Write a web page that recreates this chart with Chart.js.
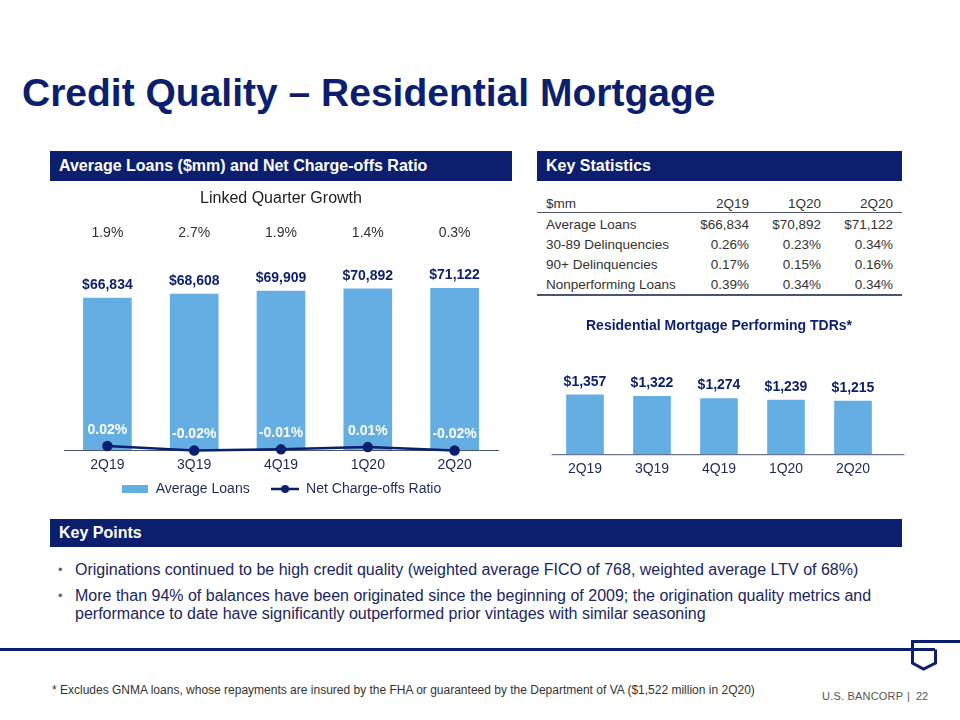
<!DOCTYPE html>
<html>
<head>
<meta charset="utf-8">
<script src="https://cdn.jsdelivr.net/npm/chart.js@4.4.1/dist/chart.umd.min.js"></script>
<style>
  body { margin: 0; background: #fff; font-family: "Liberation Sans", Arial, sans-serif; }
  #slide { position: relative; width: 960px; height: 720px; overflow: hidden; }
  .abs { position: absolute; }
  .title { left: 22px; top: 71px; font-size: 39px; font-weight: bold; color: #0c1f6e; white-space: nowrap; }
  .bar { background: #0c1f6e; color: #fff; font-weight: bold; font-size: 16px; padding-left: 9px; box-sizing: border-box; }
  #stats { left: 537px; top: 196px; width: 365px; border-collapse: collapse; font-size: 13.5px; color: #333; table-layout: fixed; }
  #stats td { height: 20px; padding: 0; line-height: 16px; vertical-align: bottom; }
  #stats tr.head td { height: 15px; vertical-align: middle; border-bottom: 1.5px solid #4a5474; }
  #stats tr.last td { height: 22px; vertical-align: top; padding-top: 4px; box-sizing: border-box; border-bottom: 2px solid #4a5474; }
  #stats td.num { text-align: right; }
  #stats td.lbl { padding-left: 9px; }
  #stats td.end { padding-right: 9px; }
  .points { left: 58px; top: 561px; width: 850px; font-size: 16px; color: #1a2660; }
  .points div { position: relative; padding-left: 17px; line-height: 18px; margin-bottom: 8px; }
  .points div:before { content: "\2022"; position: absolute; left: 0; color: #666; font-size: 13px; }
  .note { left: 52px; top: 683px; font-size: 12px; color: #333; white-space: nowrap; }
  .brand { top: 690px; font-size: 11px; color: #555; white-space: nowrap; }
</style>
</head>
<body>
<div id="slide">
  <div class="abs title">Credit Quality – Residential Mortgage</div>

  <div class="abs bar" style="left:50px; top:151px; width:462px; height:30px; line-height:30px;">Average Loans ($mm) and Net Charge-offs Ratio</div>
  <div class="abs bar" style="left:537px; top:151px; width:365px; height:30px; line-height:30px;">Key Statistics</div>

  <canvas id="loansChart" class="abs" style="left:50px; top:185px;" width="465" height="321"></canvas>
  <table id="stats" class="abs"></table>
  <canvas id="tdrChart" class="abs" style="left:537px; top:310px;" width="380" height="175"></canvas>

  <div class="abs bar" style="left:50px; top:519px; width:852px; height:28px; line-height:28px;">Key Points</div>
  <div class="abs points">
    <div>Originations continued to be high credit quality (weighted average FICO of 768, weighted average LTV of 68%)</div>
    <div>More than 94% of balances have been originated since the beginning of 2009; the origination quality metrics and performance to date have significantly outperformed prior vintages with similar seasoning</div>
  </div>

  <svg class="abs" style="left:0; top:630px;" width="960" height="50">
    <g fill="none" stroke="#0c1f6e" stroke-width="3">
      <line x1="0" y1="19.5" x2="935" y2="19.5"/>
      <polyline points="960,11.5 912.5,11.5 912.5,33 923.5,39 935.5,33 935.5,19.5"/>
    </g>
  </svg>
  <div class="abs note">* Excludes GNMA loans, whose repayments are insured by the FHA or guaranteed by the Department of VA ($1,522 million in 2Q20)</div>
  <div class="abs brand" style="left:822px; letter-spacing:0.2px;">U.S. BANCORP</div>
  <div class="abs brand" style="left:907px;">|</div>
  <div class="abs brand" style="left:916px;">22</div>
</div>

<script>
// chart data
var quarters = ["2Q19", "3Q19", "4Q19", "1Q20", "2Q20"];
var avgLoans = [66834, 68608, 69909, 70892, 71122];
var ncoRatio = [0.02, -0.02, -0.01, 0.01, -0.02];
var lqGrowth = ["1.9%", "2.7%", "1.9%", "1.4%", "0.3%"];
var tdrValues = [1357, 1322, 1274, 1239, 1215];

// key statistics table
var statHeads = ["$mm", "2Q19", "1Q20", "2Q20"];
var statLabels = ["Average Loans", "30-89 Delinquencies", "90+ Delinquencies", "Nonperforming Loans"];
var statAvgLoans = ["$66,834", "$70,892", "$71,122"];
var statDelinq3089 = ["0.26%", "0.23%", "0.34%"];
var statDelinq90 = ["0.17%", "0.15%", "0.16%"];
var statNonperf = ["0.39%", "0.34%", "0.34%"];

var NAVY = "#0c1f6e";
var BLUE = "#64aee4";
var TEXT = "#1f2b55";

function buildTable()
{
    var rows = [statAvgLoans, statDelinq3089, statDelinq90, statNonperf];
    var widths = [131, 72, 72, 72];   // + 9px padding on first and last
    var html = '<tr class="head"><td class="lbl" style="width:' + widths[0] + 'px">' + statHeads[0] + '</td>';
    for (var i = 1; i < statHeads.length; i++) {
        html += '<td class="num' + (i == 3 ? ' end' : '') + '" style="width:' + widths[i] + 'px">' + statHeads[i] + '</td>';
    }
    html += '</tr>';
    for (var r = 0; r < rows.length; r++) {
        html += '<tr' + (r == rows.length - 1 ? ' class="last"' : '') + '><td class="lbl">' + statLabels[r] + '</td>';
        for (var c = 0; c < rows[r].length; c++) {
            html += '<td class="num' + (c == 2 ? ' end' : '') + '">' + rows[r][c] + '</td>';
        }
        html += '</tr>';
    }
    document.getElementById("stats").innerHTML = html;
}

function dollars(v) { return "$" + v.toLocaleString("en-US"); }

// little legend icons
function barIcon()
{
    var c = document.createElement("canvas");
    c.width = 26; c.height = 8;
    var ctx = c.getContext("2d");
    ctx.fillStyle = BLUE;
    ctx.fillRect(0, 0, 26, 8);
    return c;
}
function lineIcon()
{
    var c = document.createElement("canvas");
    c.width = 28; c.height = 10;
    var ctx = c.getContext("2d");
    ctx.strokeStyle = NAVY; ctx.lineWidth = 2.5;
    ctx.beginPath(); ctx.moveTo(0, 5); ctx.lineTo(28, 5); ctx.stroke();
    ctx.fillStyle = NAVY;
    ctx.beginPath(); ctx.arc(14, 5, 4, 0, Math.PI * 2); ctx.fill();
    return c;
}

var loansLabels = {
    id: "loansLabels",
    afterDatasetsDraw: function(chart) {
        var ctx = chart.ctx;
        ctx.save();
        ctx.textAlign = "center";
        ctx.textBaseline = "middle";
        var bars = chart.getDatasetMeta(0).data;
        var pts = chart.getDatasetMeta(1).data;
        for (var i = 0; i < bars.length; i++) {
            ctx.font = "bold 14px 'Liberation Sans', Arial";
            ctx.fillStyle = NAVY;
            ctx.fillText(dollars(avgLoans[i]), bars[i].x, bars[i].y - 13);
            ctx.font = "14px 'Liberation Sans', Arial";
            ctx.fillStyle = "#333";
            ctx.fillText(lqGrowth[i], bars[i].x, 48);
            ctx.font = "bold 14px 'Liberation Sans', Arial";
            ctx.fillStyle = "#fff";
            ctx.fillText(ncoRatio[i].toFixed(2) + "%", pts[i].x, pts[i].y - 16);
        }
        ctx.restore();
    }
};

var tdrLabels = {
    id: "tdrLabels",
    afterDatasetsDraw: function(chart) {
        var ctx = chart.ctx;
        var area = chart.chartArea;
        ctx.save();
        ctx.strokeStyle = "#4a5474"; ctx.lineWidth = 1;
        ctx.beginPath(); ctx.moveTo(area.left, area.bottom + 0.5); ctx.lineTo(area.right + 18, area.bottom + 0.5); ctx.stroke();
        ctx.textAlign = "center";
        ctx.textBaseline = "middle";
        ctx.font = "bold 14px 'Liberation Sans', Arial";
        ctx.fillStyle = NAVY;
        var bars = chart.getDatasetMeta(0).data;
        for (var i = 0; i < bars.length; i++) {
            ctx.fillText(dollars(tdrValues[i]), bars[i].x, bars[i].y - 13);
        }
        ctx.restore();
    }
};

function initialiseLoansChart()
{
    var ctx = document.getElementById("loansChart").getContext("2d");
    new Chart(ctx, {
        type: "bar",
        data: {
            labels: quarters,
            datasets: [
                { type: "bar", label: "Average Loans", data: avgLoans, backgroundColor: BLUE,
                  barThickness: 48, yAxisID: "y", order: 1 },
                { type: "line", label: "Net Charge-offs Ratio", data: ncoRatio, borderColor: NAVY,
                  backgroundColor: NAVY, borderWidth: 2.5, pointRadius: 4, pointBackgroundColor: NAVY,
                  yAxisID: "y1", order: 0, clip: false }
            ]
        },
        options: {
            animation: false,
            responsive: false,
            layout: { padding: { left: 14, right: 17, top: 0, bottom: 0 } },
            scales: {
                x: {
                    grid: { display: false, drawTicks: false },
                    border: { display: true, color: "#4a5474", width: 1 },
                    ticks: { color: TEXT, font: { size: 14, lineHeight: 1, family: "'Liberation Sans', Arial" }, padding: 8 }
                },
                y: { display: false, min: 0, max: 80000 },
                y1: { display: false, min: -0.0156, max: 1.593 }
            },
            plugins: {
                title: { display: true, text: "Linked Quarter Growth", color: "#222",
                         font: { size: 16, weight: "normal", family: "'Liberation Sans', Arial" },
                         padding: { top: 4, bottom: 60 } },
                legend: {
                    position: "bottom",
                    labels: {
                        usePointStyle: true,
                        pointStyleWidth: 28,
                        color: TEXT,
                        padding: 2,
                        font: { size: 14, lineHeight: 1, family: "'Liberation Sans', Arial" },
                        generateLabels: function(chart) {
                            var ds = chart.data.datasets;
                            // trailing spaces keep the two entries apart
                            return [
                                { text: ds[0].label + "     ", pointStyle: barIcon(), fontColor: TEXT, datasetIndex: 0, lineWidth: 0 },
                                { text: ds[1].label, pointStyle: lineIcon(), fontColor: TEXT, datasetIndex: 1, lineWidth: 0 }
                            ];
                        }
                    }
                },
                tooltip: { enabled: false }
            }
        },
        plugins: [loansLabels]
    });
}

function initialiseTdrChart()
{
    var ctx = document.getElementById("tdrChart").getContext("2d");
    new Chart(ctx, {
        type: "bar",
        data: {
            labels: quarters,
            datasets: [{ label: "Residential Mortgage Performing TDRs", data: tdrValues,
                         backgroundColor: BLUE, barThickness: 37 }]
        },
        options: {
            animation: false,
            responsive: false,
            layout: { padding: { left: 14.5, right: 30.5, top: 0, bottom: 0 } },
            scales: {
                x: {
                    grid: { display: false, drawTicks: false },
                    border: { display: false },
                    ticks: { color: TEXT, font: { size: 14, family: "'Liberation Sans', Arial" }, padding: 7 }
                },
                y: { display: false, min: 0, max: 2000 }
            },
            plugins: {
                title: { display: true, text: "Residential Mortgage Performing TDRs*", color: NAVY,
                         font: { size: 14, weight: "bold", family: "'Liberation Sans', Arial" },
                         padding: { top: 8, bottom: 32 } },
                legend: { display: false },
                tooltip: { enabled: false }
            }
        },
        plugins: [tdrLabels]
    });
}

buildTable();
initialiseLoansChart();
initialiseTdrChart();
</script>
</body>
</html>
